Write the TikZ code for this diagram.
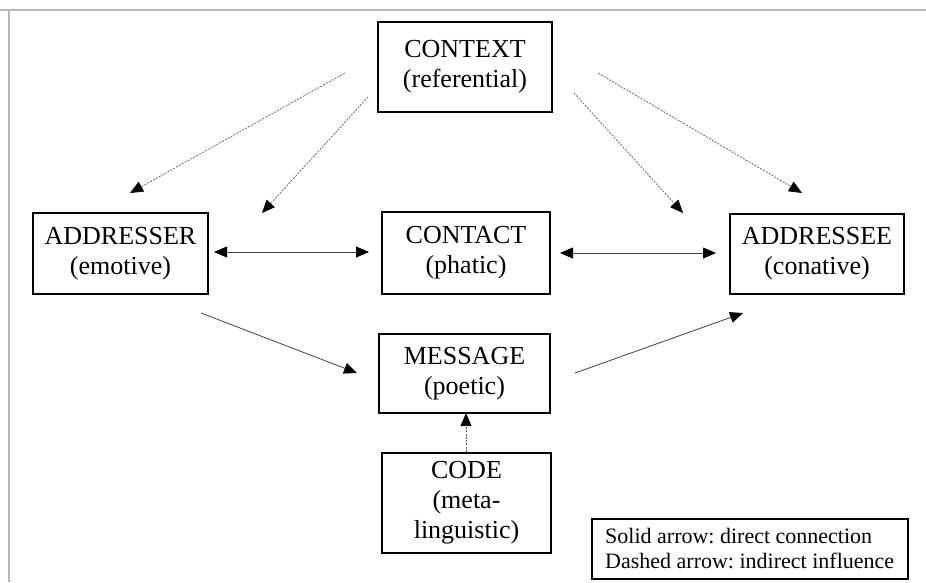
\documentclass[tikz,border=0pt]{standalone}
\usepackage{fontspec}
\setmainfont{Liberation Serif}
\usetikzlibrary{arrows.meta}
\frenchspacing

\begin{document}
\begin{tikzpicture}[x=1pt,y=-1pt,
  box/.style={draw=black, line width=2.2pt, align=center, inner sep=0pt,
    font=\fontsize{26}{30}\selectfont},
  legendbox/.style={draw=black, line width=2pt, inner sep=0pt},
  legendtext/.style={align=left, inner sep=0pt, anchor=west,
    font=\fontsize{22}{25}\selectfont},
  headtip/.tip={Triangle[length=13pt,width=11pt,color=black]},
  direct/.style={draw=black!75, line width=0.8pt, -headtip},
  direct2/.style={draw=black!75, line width=0.8pt, headtip-headtip},
  indirect/.style={draw=black!65, line width=0.7pt, dash pattern=on 2pt off 1.3pt, -headtip},
  frameline/.style={draw=black!28, line width=2pt}
]
\useasboundingbox (0,0) rectangle (926,582);

% outer frame (top and left edges only)
\draw[frameline] (0,10) -- (926,10);
\draw[frameline] (9,10) -- (9,582);

% the six functions
\node[box, minimum width=174pt, minimum height=90pt] (context)   at (465,67)    {CONTEXT\\(referential)};
\node[box, minimum width=175pt, minimum height=81pt] (addresser) at (120.5,253.5) {ADDRESSER\\(emotive)};
\node[box, minimum width=168pt, minimum height=82pt] (contact)   at (466,253)   {CONTACT\\(phatic)};
\node[box, minimum width=174pt, minimum height=80pt] (addressee) at (817,254)   {ADDRESSEE\\(conative)};
\node[box, minimum width=171pt, minimum height=79pt] (message)   at (464.5,373.5) {MESSAGE\\(poetic)};
\node[box, minimum width=169pt, minimum height=100pt] (code)     at (466.5,503) {CODE\\(meta-\\linguistic)};

% legend
\node[legendbox, minimum width=316pt, minimum height=60pt] (legend) at (750,549) {};
\node[legendtext] (legendlines) at ([xshift=14pt]legend.west)
  {Solid arrow: direct connection\\Dashed arrow: indirect influence};

% connector end points
\coordinate (ctxA) at (345,73);   \coordinate (sndA) at (130,193);
\coordinate (ctxB) at (368,97);   \coordinate (sndB) at (262,213);
\coordinate (ctxC) at (574,93);   \coordinate (rcvC) at (683,213);
\coordinate (ctxD) at (598,73);   \coordinate (rcvD) at (802,193);
\coordinate (sndE) at (214,252);  \coordinate (conE) at (369,252);
\coordinate (conF) at (560,253);  \coordinate (rcvF) at (716,253);
\coordinate (sndG) at (201,313);  \coordinate (msgG) at (357,373);
\coordinate (msgH) at (575,373);  \coordinate (rcvH) at (743,313);
\coordinate (codI) at (466,452);  \coordinate (msgI) at (466,413);

% context influences sender and receiver
\draw[indirect] (ctxA) -- (sndA);
\draw[indirect] (ctxB) -- (sndB);
\draw[indirect] (ctxC) -- (rcvC);
\draw[indirect] (ctxD) -- (rcvD);

% contact links both parties
\draw[direct2] (sndE) -- (conE);
\draw[direct2] (conF) -- (rcvF);

% message path
\draw[direct] (sndG) -- (msgG);
\draw[direct] (msgH) -- (rcvH);

% code shapes the message
\draw[indirect] (codI) -- (msgI);
\end{tikzpicture}
\end{document}
